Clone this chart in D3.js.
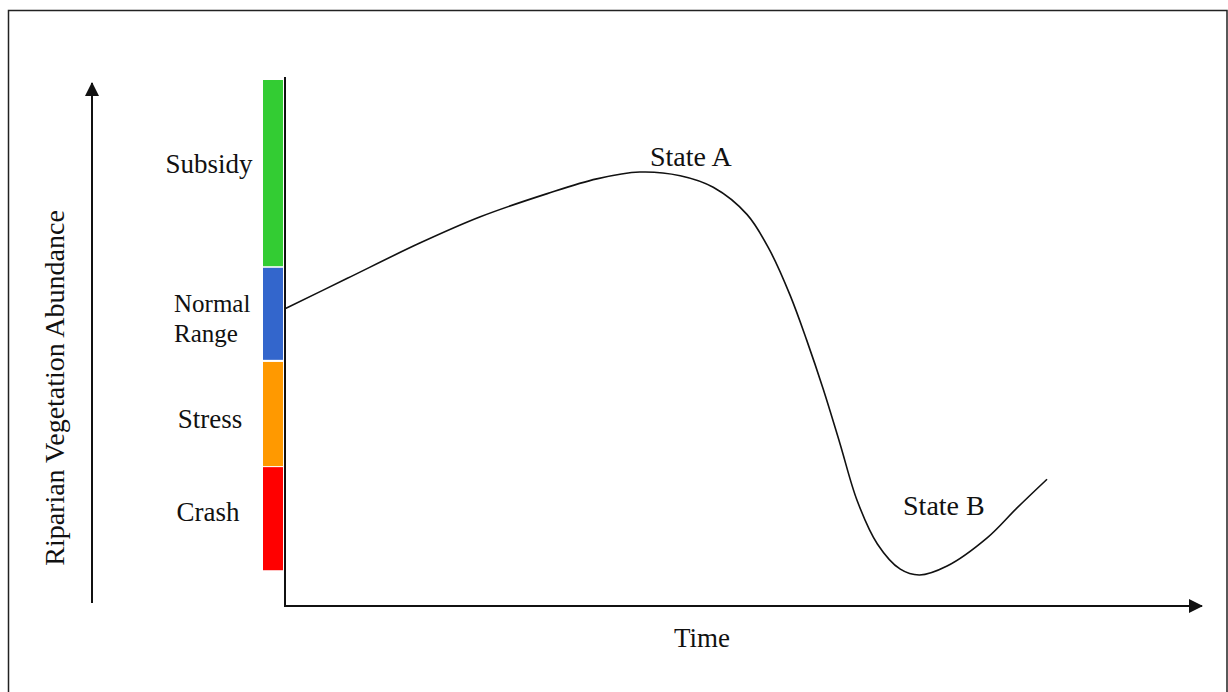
<!DOCTYPE html>
<html lang="en">
<head>
  <meta charset="UTF-8">
  <title>Riparian Vegetation Abundance</title>
  <script src="https://d3js.org/d3.v7.min.js"></script>
  <style>
    body { margin: 0; background: #fff; }
    svg text { font-family: "Liberation Serif", "Times New Roman", serif; fill: #111; }
    .frame { fill: none; stroke: #222; stroke-width: 1.5; }
    .axis-line { stroke: #111; stroke-width: 2; fill: none; }
    .curve { fill: none; stroke: #111; stroke-width: 1.6; }
  </style>
</head>
<body>
  <svg width="1228" height="692"></svg>

  <script>
    // abundance over time (0-100 conceptual units)
    const timeVals = [0, 6.8, 14.7, 21.3, 28.6, 34.0, 38.7, 43.1, 46.7, 50.4, 52.9, 55.1, 56.9,
                      58.7, 60.5, 62.4, 64.6, 67.1, 69.2, 72.2, 76.6, 79.8, 83.1];
    const abundVals = [56.5, 62.3, 69.0, 74.0, 78.4, 81.2, 82.5, 81.8, 79.6, 74.4, 67.5, 59.0, 50.5,
                       41.2, 31.0, 20.0, 11.8, 7.0, 5.9, 7.6, 13.0, 18.6, 24.1];

    // condition bands on the abundance axis
    const bandNames = ["Crash", "Stress", "Normal Range", "Subsidy"];
    const bandLow = [6.8, 26.6, 46.8, 64.6];
    const bandHigh = [26.4, 46.4, 64.3, 100];
    const bandColors = ["#ff0000", "#ff9900", "#3366cc", "#33cc33"];

    const states = [
      {label: "State A", t: 39.8, v: 83.7},
      {label: "State B", t: 67.4, v: 17.3}
    ];

    const svg = d3.select("svg");

    const x = d3.scaleLinear().domain([0, 100]).range([285, 1202]);
    const y = d3.scaleLinear().domain([0, 100]).range([606, 80]);

    // outer frame
    svg.append("rect").attr("class", "frame")
      .attr("x", 8.5).attr("y", 10.5).attr("width", 1218.5).attr("height", 700);

    // arrowhead
    svg.append("defs").append("marker")
      .attr("id", "arrow")
      .attr("viewBox", "0 0 14 14")
      .attr("refX", 13).attr("refY", 7)
      .attr("markerWidth", 14).attr("markerHeight", 14)
      .attr("markerUnits", "userSpaceOnUse")
      .attr("orient", "auto")
      .append("path").attr("d", "M0,0 L14,7 L0,14 Z").attr("fill", "#111");

    // bands
    const bands = bandNames.map((n, i) => ({name: n, lo: bandLow[i], hi: bandHigh[i], color: bandColors[i]}));
    svg.selectAll("rect.band").data(bands).enter().append("rect")
      .attr("class", "band")
      .attr("x", x(0) - 22)
      .attr("width", 20)
      .attr("y", d => y(d.hi))
      .attr("height", d => y(d.lo) - y(d.hi))
      .attr("fill", d => d.color);

    // axes
    svg.append("line").attr("class", "axis-line")
      .attr("x1", x(0)).attr("x2", x(0))
      .attr("y1", y(100) - 3).attr("y2", y(0));
    svg.append("line").attr("class", "axis-line")
      .attr("x1", x(0) - 1).attr("x2", x(100))
      .attr("y1", y(0)).attr("y2", y(0))
      .attr("marker-end", "url(#arrow)");

    // left abundance arrow
    svg.append("line").attr("class", "axis-line")
      .attr("x1", 92).attr("x2", 92)
      .attr("y1", 603).attr("y2", 83)
      .attr("marker-end", "url(#arrow)");

    // curve
    const pts = timeVals.map((t, i) => [t, abundVals[i]]);
    const line = d3.line()
      .x(d => x(d[0]))
      .y(d => y(d[1]))
      .curve(d3.curveCatmullRom.alpha(0.5));
    svg.append("path").datum(pts).attr("class", "curve").attr("d", line);

    // band labels
    const labelPos = {
      "Subsidy": {x: 209, y: 173},
      "Stress": {x: 210, y: 428},
      "Crash": {x: 208, y: 521}
    };
    Object.keys(labelPos).forEach(k => {
      svg.append("text")
        .attr("x", labelPos[k].x).attr("y", labelPos[k].y)
        .attr("text-anchor", "middle")
        .style("font-size", "27px")
        .text(k);
    });
    const nr = svg.append("text").style("font-size", "25px");
    nr.append("tspan").attr("x", 174).attr("y", 312).text("Normal");
    nr.append("tspan").attr("x", 174).attr("y", 342).text("Range");

    // state labels
    svg.selectAll("text.state").data(states).enter().append("text")
      .attr("class", "state")
      .attr("x", d => x(d.t))
      .attr("y", d => y(d.v))
      .style("font-size", "28px")
      .text(d => d.label);

    // axis titles
    svg.append("text")
      .attr("x", 702).attr("y", 647)
      .attr("text-anchor", "middle")
      .style("font-size", "27px")
      .text("Time");

    svg.append("text")
      .attr("transform", "translate(64,388) rotate(-90)")
      .attr("text-anchor", "middle")
      .style("font-size", "28px")
      .text("Riparian Vegetation Abundance");
  </script>
</body>
</html>
